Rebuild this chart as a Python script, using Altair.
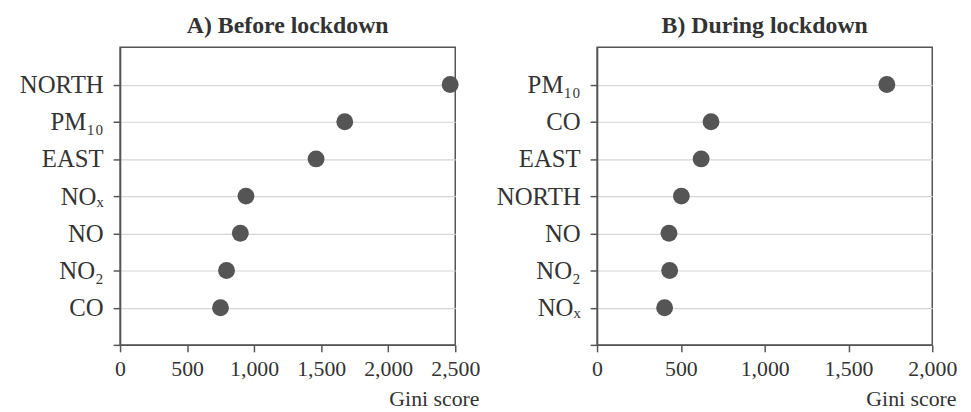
import json
import altair as alt
import pandas as pd

# Panel A (before lockdown), categories listed top to bottom
cats_a = ["NORTH", "PM₁₀", "EAST", "NOₓ", "NO", "NO₂", "CO"]
vals_a = [2462, 1676, 1462, 939, 897, 794, 749]

# Panel B (during lockdown), categories listed top to bottom
cats_b = ["PM₁₀", "CO", "EAST", "NORTH", "NO", "NO₂", "NOₓ"]
vals_b = [1729, 680, 621, 503, 429, 433, 403]

x_ticks_a = [0, 500, 1000, 1500, 2000, 2500]
x_ticks_b = [0, 500, 1000, 1500, 2000]
panel_titles = ["A) Before lockdown", "B) During lockdown"]
x_title = "Gini score"

FONT = "Liberation Serif"
W, H = 338, 300


def panel(cats, vals, ticks, title):
    n = len(cats)
    df = pd.DataFrame({"cat": cats, "val": vals, "pos": [n - i for i in range(n)]})
    labels = [""] + cats[::-1]
    expr = json.dumps(labels, ensure_ascii=False) + "[datum.value]"
    return (
        alt.Chart(df, title=alt.Title(title))
        .mark_circle(size=290, color="#555555", opacity=1)
        .encode(
            x=alt.X(
                "val:Q",
                scale=alt.Scale(domain=[ticks[0], ticks[-1]], nice=False),
                axis=alt.Axis(
                    values=ticks,
                    format=",.0f",
                    labelOverlap=False,
                    labelFlush=False,
                    title=x_title,
                    grid=False,
                    titleAlign="right",
                    titleAnchor="end",
                    titleX=W + 24,
                    titleY=61,
                    titleBaseline="alphabetic",
                    labelPadding=7,
                    labelFontSize=22,
                    titleFontSize=22,
                ),
            ),
            y=alt.Y(
                "pos:Q",
                scale=alt.Scale(domain=[0, n + 1], nice=False),
                axis=alt.Axis(
                    values=list(range(n + 1)),
                    labelExpr=expr,
                    labelOverlap=False,
                    labelFlush=False,
                    title=None,
                    grid=True,
                    minExtent=107,
                    maxExtent=107,
                    labelPadding=10,
                    labelFontSize=25,
                ),
            ),
        )
        .properties(width=W, height=H)
    )


chart = (
    alt.hconcat(
        panel(cats_a, vals_a, x_ticks_a, panel_titles[0]),
        panel(cats_b, vals_b, x_ticks_b, panel_titles[1]),
        spacing=143,
        bounds="flush",
    )
    .properties(padding={"left": 5, "top": 4, "right": 5, "bottom": 0})
    .configure_view(stroke="#555555", strokeWidth=1.5)
    .configure_axis(
        labelFont=FONT,
        labelColor="#333333",
        titleFont=FONT,
        titleFontWeight="normal",
        titleColor="#333333",
        domainColor="#555555",
        domainWidth=1.5,
        tickColor="#555555",
        tickWidth=1.5,
        tickSize=7,
        gridColor="#d6d6d6",
        gridWidth=1.2,
    )
    .configure_title(font=FONT, fontSize=24, fontWeight="bold", color="#333333", offset=9, anchor="middle")
)

chart.save("out.html", embed_options={"renderer": "svg", "actions": False})
